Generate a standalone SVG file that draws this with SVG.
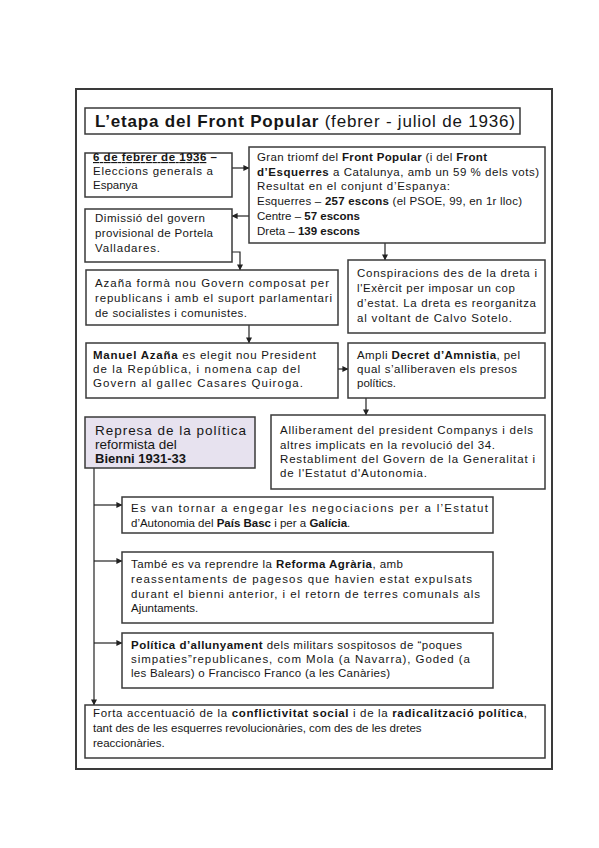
<svg xmlns="http://www.w3.org/2000/svg" width="599" height="848" viewBox="0 0 599 848">
<style>
.b{fill:#fff;stroke:#3a3a3a;stroke-width:1.5}
.p{fill:#e7e2ef;stroke:#3a3a3a;stroke-width:1.5}
.t{font-family:"Liberation Sans",Arial,sans-serif;font-size:11.5px;fill:#161616}
.r{font-size:13.5px}
.h{font-size:17px}
.bd{font-weight:bold}
.c{fill:none;stroke:#222;stroke-width:1.2}
</style>
<defs>
<marker id="ar" viewBox="0 0 8 8" refX="7.5" refY="4" markerWidth="6" markerHeight="6" orient="auto" markerUnits="userSpaceOnUse">
<path d="M0,0 L8,4 L0,8 z" fill="#222"/>
</marker>
</defs>
<rect x="0" y="0" width="599" height="848" fill="#fff"/>
<rect id="frame" x="76" y="89" width="476" height="680" fill="none" stroke="#3a3a3a" stroke-width="2"/>

<g id="connectors">
<line class="c" x1="232" y1="168" x2="249" y2="168" marker-end="url(#ar)"/>
<line class="c" x1="249" y1="216" x2="232" y2="216" marker-end="url(#ar)"/>
<polyline class="c" points="232,252 240,252 240,270" marker-end="url(#ar)"/>
<line class="c" x1="385" y1="243" x2="385" y2="260" marker-end="url(#ar)"/>
<line class="c" x1="249" y1="325" x2="249" y2="343" marker-end="url(#ar)"/>
<line class="c" x1="338" y1="369" x2="348" y2="369" marker-end="url(#ar)"/>
<line class="c" x1="366" y1="398" x2="366" y2="415" marker-end="url(#ar)"/>
<line class="c" x1="94" y1="468" x2="94" y2="705" marker-end="url(#ar)"/>
<line class="c" x1="94" y1="505" x2="122" y2="505" marker-end="url(#ar)"/>
<line class="c" x1="94" y1="561" x2="122" y2="561" marker-end="url(#ar)"/>
<line class="c" x1="94" y1="643" x2="122" y2="643" marker-end="url(#ar)"/>
</g>

<g id="title">
<rect class="b" x="85" y="108" width="435" height="26"/>
<text class="t h" x="95" y="127" textLength="420"><tspan class="bd">L’etapa del Front Popular</tspan> (febrer - juliol de 1936)</text>
</g>

<g id="eleccions">
<rect class="b" x="85" y="153" width="147" height="44"/>
<text class="t" x="93" y="161" textLength="124"><tspan class="bd" text-decoration="underline">6 de febrer de 1936</tspan><tspan class="bd"> –</tspan></text>
<text class="t" x="93" y="175" textLength="120">Eleccions generals a</text>
<text class="t" x="93" y="189">Espanya</text>
</g>

<g id="triomf">
<rect class="b" x="249" y="147" width="296" height="96"/>
<text class="t" x="257" y="161" textLength="230">Gran triomf del <tspan class="bd">Front Popular</tspan> (i del <tspan class="bd">Front</tspan></text>
<text class="t" x="257" y="175.5" textLength="282"><tspan class="bd">d’Esquerres</tspan> a Catalunya, amb un 59 % dels vots)</text>
<text class="t" x="257" y="190" textLength="193">Resultat en el conjunt d’Espanya:</text>
<text class="t" x="257" y="204.5" textLength="265">Esquerres – <tspan class="bd">257 escons</tspan> (el PSOE, 99, en 1r lloc)</text>
<text class="t" x="257" y="220">Centre – <tspan class="bd">57 escons</tspan></text>
<text class="t" x="257" y="234.5">Dreta – <tspan class="bd">139 escons</tspan></text>
</g>

<g id="dimissio">
<rect class="b" x="85" y="209" width="147" height="53"/>
<text class="t" x="95" y="222" textLength="110">Dimissió del govern</text>
<text class="t" x="95" y="237" textLength="118">provisional de Portela</text>
<text class="t" x="95" y="252" textLength="65">Valladares.</text>
</g>

<g id="conspiracions">
<rect class="b" x="348" y="260" width="197" height="73"/>
<text class="t" x="357" y="277" textLength="180">Conspiracions des de la dreta i</text>
<text class="t" x="357" y="292" textLength="158">l'Exèrcit per imposar un cop</text>
<text class="t" x="357" y="307" textLength="179">d’estat. La dreta es reorganitza</text>
<text class="t" x="357" y="322" textLength="155">al voltant de Calvo Sotelo.</text>
</g>

<g id="azana-govern">
<rect class="b" x="86" y="270" width="252" height="55"/>
<text class="t" x="95" y="287" textLength="234">Azaña formà nou Govern composat per</text>
<text class="t" x="95" y="302" textLength="237">republicans i amb el suport parlamentari</text>
<text class="t" x="95" y="317" textLength="152">de socialistes i comunistes.</text>
</g>

<g id="azana-president">
<rect class="b" x="86" y="343" width="252" height="55"/>
<text class="t" x="93" y="359" textLength="223"><tspan class="bd">Manuel Azaña</tspan> es elegit nou President</text>
<text class="t" x="93" y="373" textLength="207">de la República, i nomena cap del</text>
<text class="t" x="93" y="387" textLength="210">Govern al gallec Casares Quiroga.</text>
</g>

<g id="amnistia">
<rect class="b" x="348" y="343" width="197" height="55"/>
<text class="t" x="357" y="359" textLength="163">Ampli <tspan class="bd">Decret d’Amnistia</tspan>, pel</text>
<text class="t" x="357" y="373" textLength="160">qual s’alliberaven els presos</text>
<text class="t" x="357" y="387">polítics.</text>
</g>

<g id="represa">
<rect class="p" x="85" y="417" width="170" height="51"/>
<text class="t r" x="95" y="435" textLength="151">Represa de la política</text>
<text class="t r" x="95" y="449">reformista del</text>
<text class="t bd" x="95" y="463" style="font-size:13px">Bienni 1931-33</text>
</g>

<g id="alliberament">
<rect class="b" x="271" y="415" width="274" height="74"/>
<text class="t" x="280" y="434" textLength="253">Alliberament del president Companys i dels</text>
<text class="t" x="280" y="449" textLength="215">altres implicats en la revolució del 34.</text>
<text class="t" x="280" y="463" textLength="255">Restabliment del Govern de la  Generalitat i</text>
<text class="t" x="280" y="477" textLength="147">de l'Estatut d'Autonomia.</text>
</g>

<g id="estatuts">
<rect class="b" x="122" y="497" width="371" height="36"/>
<text class="t" x="131" y="512" textLength="357">Es van tornar a engegar les negociacions per a l’Estatut</text>
<text class="t" x="131" y="527">d’Autonomia del <tspan class="bd">País Basc</tspan> i per a <tspan class="bd">Galícia</tspan>.</text>
</g>

<g id="reforma">
<rect class="b" x="122" y="552" width="371" height="71"/>
<text class="t" x="131" y="568" textLength="272">També es va reprendre la <tspan class="bd">Reforma Agrària</tspan>, amb</text>
<text class="t" x="131" y="583" textLength="341">reassentaments de pagesos que havien estat expulsats</text>
<text class="t" x="131" y="598" textLength="349">durant el bienni anterior, i el retorn de terres comunals als</text>
<text class="t" x="131" y="612">Ajuntaments.</text>
</g>

<g id="allunyament">
<rect class="b" x="122" y="633" width="371" height="55"/>
<text class="t" x="131" y="649" textLength="331"><tspan class="bd">Política d’allunyament</tspan> dels militars sospitosos de “poques</text>
<text class="t" x="131" y="663" textLength="339">simpaties”republicanes, com Mola (a Navarra), Goded (a</text>
<text class="t" x="131" y="677" textLength="259">les Balears) o Francisco Franco (a les Canàries)</text>
</g>

<g id="conflictivitat">
<rect class="b" x="85" y="705" width="460" height="53"/>
<text class="t" x="93" y="717" textLength="434">Forta accentuació de la <tspan class="bd">conflictivitat social</tspan> i de la <tspan class="bd">radicalització política</tspan>,</text>
<text class="t" x="93" y="732">tant des de les esquerres revolucionàries, com des de les dretes</text>
<text class="t" x="93" y="747">reaccionàries.</text>
</g>
</svg>
